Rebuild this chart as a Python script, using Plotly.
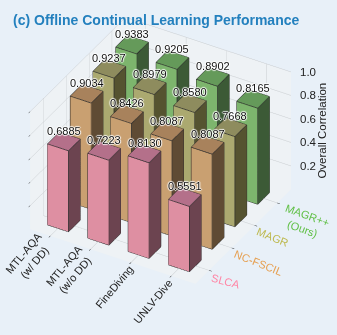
import plotly.graph_objects as go

datasets = ["MTL-AQA<br>(w/ DD)", "MTL-AQA<br>(w/o DD)", "FineDiving", "UNLV-Dive"]
methods = ["SLCA", "NC-FSCIL", "MAGR", "MAGR++<br>(Ours)"]
slca = [0.6885, 0.7223, 0.8130, 0.5551]
nc_fscil = [0.9034, 0.8426, 0.8087, 0.8087]
magr = [0.9237, 0.8979, 0.8580, 0.7668]
magr_pp = [0.9383, 0.9205, 0.8902, 0.8165]
series = [slca, nc_fscil, magr, magr_pp]
z_ticks = [0.2, 0.4, 0.6, 0.8, 1.0]

front = ["#DE8FA2", "#C9A071", "#ABA970", "#7DB56D"]
top = ["#B4708A", "#A8825C", "#8E8C5E", "#659A5A"]
side = ["#6C4450", "#5F4B34", "#555330", "#3C5A36"]
method_col = ["#FF85A5", "#E6A052", "#BDB94F", "#5FBF45"]
BG = "#E8F0F8"
W = 0.26

fig = go.Figure()
ex, ey, ez = [], [], []
for j, vals in enumerate(series):
    for i, v in enumerate(vals):
        x0, x1, y0, y1 = i - W, i + W, j - W, j + W
        X = [x0, x1, x1, x0, x0, x1, x1, x0]
        Y = [y0, y0, y1, y1, y0, y0, y1, y1]
        Z = [0, 0, 0, 0, v, v, v, v]
        tri = [(0,1,5),(0,5,4),(1,2,6),(1,6,5),(4,5,6),(4,6,7),(3,2,6),(3,6,7),(0,3,7),(0,7,4),(0,1,2),(0,2,3)]
        cols = [front[j]]*2 + [side[j]]*2 + [top[j]]*2 + [side[j]]*6
        fig.add_trace(go.Mesh3d(x=X, y=Y, z=Z, i=[t[0] for t in tri], j=[t[1] for t in tri], k=[t[2] for t in tri],
                                facecolor=cols, flatshading=True, hoverinfo="skip",
                                lighting=dict(ambient=1, diffuse=0, specular=0, fresnel=0, roughness=1)))
        for a, b in [(0,1),(1,2),(2,3),(3,0),(4,5),(5,6),(6,7),(7,4),(0,4),(1,5),(2,6),(3,7)]:
            ex += [X[a], X[b], None]; ey += [Y[a], Y[b], None]; ez += [Z[a], Z[b], None]
fig.add_trace(go.Scatter3d(x=ex, y=ey, z=ez, mode="lines", line=dict(color="#2b2b2b", width=1.5),
                           hoverinfo="skip", showlegend=False))

ann = []
for j, vals in enumerate(series):
    for i, v in enumerate(vals):
        ann.append(dict(x=i, y=j, z=v, text=f"{v:.4f}", showarrow=False, yshift=11,
                        font=dict(size=11, color="#111", family="Liberation Sans",
                                  shadow="1px 0 1px #fff, -1px 0 1px #fff, 0 1px 1px #fff, 0 -1px 1px #fff")))
xshifts = [(-21, -21), (-21, -21), (-17, -24), (-18, -25)]
for i, d in enumerate(datasets):
    ann.append(dict(x=i, y=-0.6, z=0, text=d, showarrow=False, textangle=-50, xshift=xshifts[i][0], yshift=xshifts[i][1],
                    font=dict(size=11, color="#222", family="Liberation Sans")))
yshifts = [(16, -11), (27, -15), (18, -12), (28, -19)]
yang = [15, 22, 22, 20]
for j, m in enumerate(methods):
    ann.append(dict(x=3.6, y=j, z=0, text=m, showarrow=False, textangle=yang[j], xshift=yshifts[j][0], yshift=yshifts[j][1],
                    font=dict(size=11, color=method_col[j], family="Liberation Sans")))
for t in z_ticks:
    ann.append(dict(x=3.6, y=3.6, z=t, text=f"{t:.1f}", showarrow=False, xanchor="left", xshift=7,
                    font=dict(size=11.5, color="#222", family="Liberation Sans")))
ann.append(dict(x=3.6, y=3.6, z=0.5, text="Overall Correlation", showarrow=False, textangle=-90, xshift=31,
                font=dict(size=11.5, color="#222", family="Liberation Sans")))

def ax(rng, tv):
    return dict(range=rng, tickvals=tv, showticklabels=False, title=dict(text=""), showbackground=True,
                backgroundcolor="#EEF2F5", gridcolor="#C8CCCF", gridwidth=1, showline=False, zeroline=False,
                ticks="outside", ticklen=3, tickcolor="#222", showspikes=False)

fig.update_layout(
    width=337, height=335, paper_bgcolor=BG, margin=dict(l=0, r=0, t=0, b=0), showlegend=False,
    title=dict(text="<b>(c) Offline Continual Learning Performance</b>", x=13/337, xanchor="left", y=1-20/335, yanchor="middle",
               font=dict(size=14, color="#2380BE", family="Liberation Sans")),
    scene=dict(
        domain=dict(x=[0, 1], y=[0, 1]),
        bgcolor=BG,
        xaxis=ax([-0.5, 3.6], list(range(4))),
        yaxis=ax([-0.6, 3.6], list(range(4))),
        zaxis=ax([0, 1], z_ticks),
        aspectmode="manual", aspectratio=dict(x=1.14, y=1.14, z=0.855),
        camera=dict(eye=dict(x=0.81, y=-1.306, z=0.947), center=dict(x=0.07, y=-0.026, z=-0.083), up=dict(x=0, y=0, z=1),
                    projection=dict(type="orthographic")),
        annotations=ann,
    ),
)
fig.write_html("out.html", post_script="document.body.style.margin='0';", config=dict(displayModeBar=False))
